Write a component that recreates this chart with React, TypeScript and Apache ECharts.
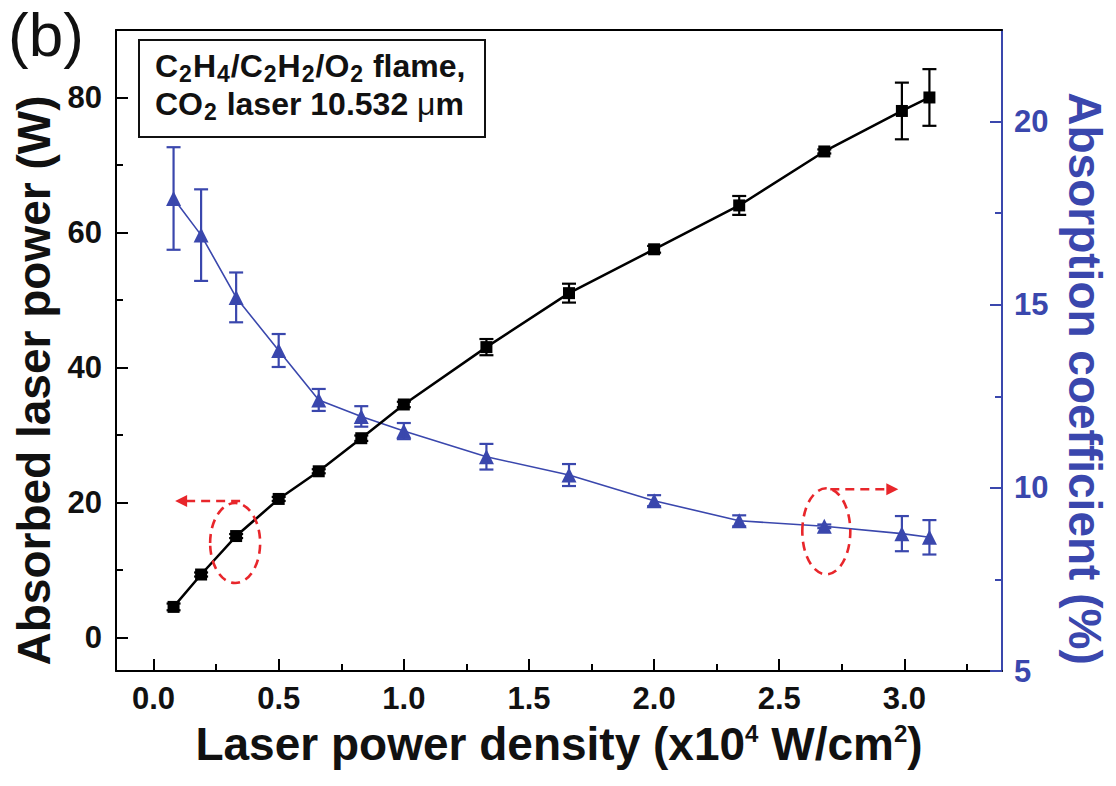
import React, { useEffect, useRef } from "react";
import * as echarts from "echarts";

// ---- data ----
const densityX = [0.08, 0.19, 0.33, 0.5, 0.66, 0.83, 1.0, 1.33, 1.66, 2.0, 2.34, 2.68, 2.99, 3.1];
const absorbedPower = [4.5, 9.3, 15.0, 20.5, 24.6, 29.5, 34.5, 43.0, 51.0, 57.5, 64.0, 72.0, 78.0, 80.0];
const absorbedPowerErr = [0.5, 0.3, 0.3, 0.3, 0.3, 0.4, 0.4, 1.2, 1.4, 0.5, 1.4, 0.3, 4.2, 4.2];
const absorptionCoef = [17.9, 16.9, 15.2, 13.75, 12.4, 11.95, 11.55, 10.85, 10.35, 9.65, 9.1, 8.95, 8.75, 8.65];
const absorptionCoefErr = [1.4, 1.25, 0.68, 0.45, 0.3, 0.28, 0.22, 0.35, 0.3, 0.15, 0.15, 0.05, 0.48, 0.47];

const xMajorTicks = [0, 0.5, 1.0, 1.5, 2.0, 2.5, 3.0];
const xMinorTicks = [0.25, 0.75, 1.25, 1.75, 2.25, 2.75, 3.25];
const leftMajorTicks = [0, 20, 40, 60, 80];
const leftMinorTicks = [10, 30, 50, 70];
const rightMajorTicks = [5, 10, 15, 20];
const rightMinorTicks = [7.5, 12.5, 17.5];

const BLUE = "#3a47ad";
const RED = "#e8262b";
const FONT = "'Liberation Sans', Arial, sans-serif";

function errorBarSeries(name: string, yAxisIndex: number, ys: number[], errs: number[], color: string) {
  return {
    type: "custom",
    name,
    xAxisIndex: 0,
    yAxisIndex,
    z: 3,
    data: densityX.map((x, i) => [x, ys[i] - errs[i], ys[i] + errs[i]]),
    encode: { x: 0, y: [1, 2] },
    renderItem: (params: any, api: any) => {
      const x = api.value(0);
      const lo = api.coord([x, api.value(1)]);
      const hi = api.coord([x, api.value(2)]);
      const w = 7;
      const style = { stroke: color, lineWidth: 2.2 };
      return {
        type: "group",
        children: [
          { type: "line", shape: { x1: lo[0], y1: lo[1], x2: hi[0], y2: hi[1] }, style },
          { type: "line", shape: { x1: lo[0] - w, y1: lo[1], x2: lo[0] + w, y2: lo[1] }, style },
          { type: "line", shape: { x1: hi[0] - w, y1: hi[1], x2: hi[0] + w, y2: hi[1] }, style },
        ],
      };
    },
  };
}

export default function App() {
  const ref = useRef<HTMLDivElement>(null);

  useEffect(() => {
    if (!ref.current) return;
    const chart = echarts.init(ref.current, null, { renderer: "svg" });

    const tickLabel = (color: string) => ({
      fontSize: 31,
      fontWeight: "bold",
      fontFamily: FONT,
      color,
    });

    const xBase = { type: "value", min: -0.15, max: 3.39, splitLine: { show: false } };
    const leftBase = { type: "value", min: -5, max: 90, position: "left", splitLine: { show: false } };
    const rightBase = { type: "value", min: 5, max: 22.5, position: "right", splitLine: { show: false } };

    chart.setOption({
      animation: false,
      backgroundColor: "#ffffff",
      grid: { left: 116, right: 114, top: 30, bottom: 115, containLabel: false },
      xAxis: [
        {
          ...xBase,
          position: "bottom",
          axisLine: { show: true, onZero: false, lineStyle: { color: "#000", width: 2 } },
          axisTick: { show: true, inside: true, length: 12, customValues: xMajorTicks, lineStyle: { color: "#000", width: 2 } },
          axisLabel: {
            show: true,
            customValues: xMajorTicks,
            margin: 12,
            formatter: (v: number) => v.toFixed(1),
            ...tickLabel("#111"),
          },
          name: "Laser power density (x10{sup|4} W/cm{sup|2})",
          nameLocation: "middle",
          nameGap: 50,
          nameTextStyle: {
            fontSize: 46,
            fontWeight: "bold",
            fontFamily: FONT,
            color: "#111",
            rich: {
              sup: { fontSize: 24, fontWeight: "bold", fontFamily: FONT, color: "#111", verticalAlign: "top" },
            },
          },
        },
        {
          ...xBase,
          position: "bottom",
          axisLine: { show: false, onZero: false },
          axisTick: { show: true, inside: true, length: 7, customValues: xMinorTicks, lineStyle: { color: "#000", width: 2 } },
          axisLabel: { show: false },
        },
        {
          ...xBase,
          position: "top",
          axisLine: { show: true, onZero: false, lineStyle: { color: "#000", width: 2 } },
          axisTick: { show: false },
          axisLabel: { show: false },
        },
      ],
      yAxis: [
        {
          ...leftBase,
          axisLine: { show: true, onZero: false, lineStyle: { color: "#000", width: 2 } },
          axisTick: { show: true, inside: true, length: 12, customValues: leftMajorTicks, lineStyle: { color: "#000", width: 2 } },
          axisLabel: { show: true, customValues: leftMajorTicks, margin: 14, ...tickLabel("#111") },
          name: "Absorbed laser power (W)",
          nameLocation: "middle",
          nameGap: 56,
          nameTextStyle: {
            fontSize: 46,
            fontWeight: "bold",
            fontFamily: FONT,
            color: "#111",
            padding: [0, 60, 0, 0],
          },
        },
        {
          ...leftBase,
          axisLine: { show: false, onZero: false },
          axisTick: { show: true, inside: true, length: 7, customValues: leftMinorTicks, lineStyle: { color: "#000", width: 2 } },
          axisLabel: { show: false },
        },
        {
          ...rightBase,
          axisLine: { show: true, onZero: false, lineStyle: { color: BLUE, width: 2 } },
          axisTick: { show: true, inside: true, length: 12, customValues: rightMajorTicks, lineStyle: { color: BLUE, width: 2 } },
          axisLabel: { show: true, customValues: rightMajorTicks, margin: 12, ...tickLabel(BLUE) },
          name: "Absorption coefficient (%)",
          nameLocation: "middle",
          nameRotate: -90,
          nameGap: 60,
          nameTextStyle: {
            fontSize: 46,
            fontWeight: "bold",
            fontFamily: FONT,
            color: BLUE,
            padding: [0, 0, 0, 56],
          },
        },
        {
          ...rightBase,
          axisLine: { show: false, onZero: false },
          axisTick: { show: true, inside: true, length: 7, customValues: rightMinorTicks, lineStyle: { color: BLUE, width: 2 } },
          axisLabel: { show: false },
        },
      ],
      series: [
        {
          type: "line",
          name: "Absorption coefficient",
          xAxisIndex: 0,
          yAxisIndex: 2,
          data: densityX.map((x, i) => [x, absorptionCoef[i]]),
          symbol: "triangle",
          symbolSize: 15,
          lineStyle: { color: BLUE, width: 1.6 },
          itemStyle: { color: BLUE },
          z: 2,
        },
        errorBarSeries("Absorption coefficient error", 2, absorptionCoef, absorptionCoefErr, BLUE),
        {
          type: "line",
          name: "Absorbed laser power",
          xAxisIndex: 0,
          yAxisIndex: 0,
          data: densityX.map((x, i) => [x, absorbedPower[i]]),
          symbol: "rect",
          symbolSize: 12,
          lineStyle: { color: "#000", width: 2.5 },
          itemStyle: { color: "#000" },
          z: 4,
        },
        errorBarSeries("Absorbed laser power error", 0, absorbedPower, absorbedPowerErr, "#000"),
      ],
    });

    // annotations anchored to data points
    const pL = chart.convertToPixel({ xAxisIndex: 0, yAxisIndex: 0 }, [densityX[2], absorbedPower[2]]) as number[];
    const pR = chart.convertToPixel({ xAxisIndex: 0, yAxisIndex: 2 }, [densityX[11], absorptionCoef[11]]) as number[];
    const dash = { stroke: RED, lineWidth: 2.6, lineDash: [9, 6], fill: "none" };

    chart.setOption({
      graphic: [
        {
          type: "text",
          left: 8,
          top: 3,
          style: { text: "(b)", fontSize: 62, fontFamily: FONT, fontWeight: "normal", fill: "#111" },
        },
        {
          type: "rect",
          shape: { x: 139, y: 40, width: 346, height: 97 },
          style: { fill: "#fff", stroke: "#111", lineWidth: 2 },
          z: 10,
        },
        {
          type: "text",
          x: 155,
          y: 47,
          z: 11,
          style: {
            text: "C{s|2}H{s|4}/C{s|2}H{s|2}/O{s|2} flame,\nCO{s|2} laser 10.532 {mu|μ}m",
            fontSize: 32,
            fontWeight: "bold",
            fontFamily: FONT,
            fill: "#111",
            lineHeight: 38,
            rich: {
              s: {
                fontSize: 23,
                fontWeight: "bold",
                fontFamily: FONT,
                fill: "#111",
                verticalAlign: "bottom",
                lineHeight: 25,
                padding: [0, 1, 0, 1],
              },
              mu: { fontSize: 32, fontWeight: "normal", fontFamily: FONT, fill: "#111" },
            },
          },
        },
        // left annotation
        {
          type: "ellipse",
          shape: { cx: pL[0] - 1, cy: pL[1] + 7, rx: 25, ry: 40 },
          style: dash,
          z: 12,
        },
        {
          type: "line",
          shape: { x1: pL[0] + 4, y1: pL[1] - 35, x2: pL[0] - 50, y2: pL[1] - 35 },
          style: dash,
          z: 12,
        },
        {
          type: "polygon",
          shape: { points: [[pL[0] - 61, pL[1] - 35], [pL[0] - 49, pL[1] - 41], [pL[0] - 49, pL[1] - 29]] },
          style: { fill: RED },
          z: 12,
        },
        // right annotation
        {
          type: "ellipse",
          shape: { cx: pR[0] + 2, cy: pR[1] + 5, rx: 24, ry: 43 },
          style: dash,
          z: 12,
        },
        {
          type: "line",
          shape: { x1: pR[0] + 6, y1: pR[1] - 37, x2: pR[0] + 62, y2: pR[1] - 37 },
          style: dash,
          z: 12,
        },
        {
          type: "polygon",
          shape: { points: [[pR[0] + 74, pR[1] - 37], [pR[0] + 62, pR[1] - 43], [pR[0] + 62, pR[1] - 31]] },
          style: { fill: RED },
          z: 12,
        },
      ],
    });

    return () => chart.dispose();
  }, []);

  return (
    <div
      ref={ref}
      style={{ position: "absolute", left: 0, top: 0, width: 1116, height: 786, background: "#fff" }}
    />
  );
}
